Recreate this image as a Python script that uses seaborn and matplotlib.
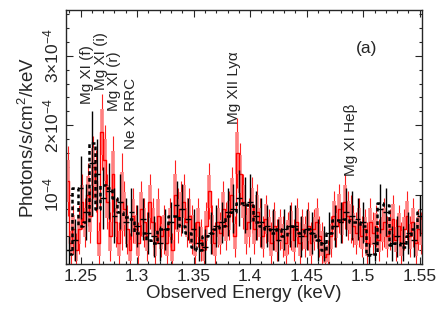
import numpy as np
import pandas as pd
import matplotlib
matplotlib.use("Agg")
import matplotlib.pyplot as plt
import seaborn as sns
from matplotlib.ticker import MultipleLocator

# ----------------------------
# Spectrum data (units of 1e-4 photons/s/cm^2/keV)
# ----------------------------
# black spectrum, 0.005 keV bins
black_e = [1.240, 1.245, 1.250, 1.255, 1.260, 1.265, 1.270, 1.275, 1.280, 1.285,
           1.290, 1.295, 1.300, 1.305, 1.310, 1.315, 1.320, 1.325, 1.330, 1.335,
           1.340, 1.345, 1.350, 1.355, 1.360, 1.365, 1.370, 1.375, 1.380, 1.385,
           1.390, 1.395, 1.400, 1.405, 1.410, 1.415, 1.420, 1.425, 1.430, 1.435,
           1.440, 1.445, 1.450, 1.455, 1.460, 1.465, 1.470, 1.475, 1.480, 1.485,
           1.490, 1.495, 1.500, 1.505, 1.510, 1.515, 1.520, 1.525, 1.530, 1.535,
           1.540, 1.545, 1.550]
black_y = [0.20, 0.35, 1.10, 0.75, 1.45, 1.30, 0.95, 1.05, 0.70, 0.90,
           0.60, 0.75, 0.55, 0.65, 0.45, 0.40, 0.30, 0.50, 0.60, 0.85,
           0.80, 0.65, 0.50, 0.30, 0.25, 0.45, 0.55, 0.60, 0.75, 0.80,
           0.95, 0.85, 0.90, 0.70, 0.60, 0.55, 0.50, 0.35, 0.50, 0.55,
           0.55, 0.40, 0.50, 0.45, 0.35, 0.30, 0.45, 0.55, 0.60, 0.75,
           0.70, 0.65, 0.60, 0.15, 0.30, 0.80, 0.75, 0.30, 0.40, 0.30,
           0.45, 0.35, 0.70]
black_err = [0.20, 0.30, 0.45, 0.40, 0.75, 0.50, 0.45, 0.40, 0.40, 0.40,
             0.35, 0.35, 0.30, 0.30, 0.30, 0.30, 0.25, 0.30, 0.30, 0.35,
             0.35, 0.30, 0.30, 0.25, 0.25, 0.30, 0.30, 0.30, 0.35, 0.35,
             0.40, 0.40, 0.40, 0.35, 0.35, 0.30, 0.30, 0.30, 0.30, 0.30,
             0.30, 0.30, 0.30, 0.30, 0.30, 0.25, 0.30, 0.30, 0.30, 0.35,
             0.35, 0.30, 0.30, 0.15, 0.25, 0.35, 0.35, 0.25, 0.30, 0.25,
             0.30, 0.25, 0.30]
black_model = [0.15, 1.10, 0.55, 0.60, 1.74, 0.80, 1.14, 1.10, 0.95, 0.75,
               0.68, 0.65, 0.45, 0.45, 0.35, 0.30, 0.50, 0.50, 0.70, 0.70,
               0.55, 0.45, 0.25, 0.20, 0.40, 0.45, 0.50, 0.55, 0.70, 0.75,
               0.88, 0.88, 0.85, 0.60, 0.55, 0.50, 0.45, 0.50, 0.40, 0.55,
               0.50, 0.45, 0.50, 0.45, 0.35, 0.20, 0.45, 0.63, 0.63, 0.65,
               0.60, 0.60, 0.55, 0.13, 0.15, 0.88, 0.85, 0.27, 0.30, 0.25,
               0.40, 0.50, 0.75]

# red spectrum, 0.0025 keV bins starting at 1.23875 keV
red_e = [round(1.23875 + 0.0025 * i, 5) for i in range(126)]
red_y = [1.20, 0.30, 0.50, 0.20, 0.50, 0.90, 0.60, 1.00, 0.70, 1.40,
         1.20, 0.30, 1.90, 1.50, 0.90, 0.40, 1.30, 0.60, 0.30, 0.90,
         0.80, 0.50, 0.20, 0.70, 0.50, 0.30, 0.80, 0.60, 0.40, 0.90,
         0.60, 0.30, 0.70, 0.40, 0.50, 0.30, 0.60, 0.20, 1.00, 0.70,
         0.80, 0.90, 0.60, 0.70, 0.50, 0.30, 0.60, 0.35, 0.20, 0.55,
         1.05, 0.50, 0.30, 0.60, 0.45, 0.80, 0.55, 0.70, 1.00, 0.40,
         1.60, 1.30, 0.90, 0.50, 0.60, 0.85, 0.50, 0.75, 0.60, 0.40,
         0.65, 0.50, 0.30, 0.55, 0.35, 0.50, 0.40, 0.30, 0.45, 0.55,
         0.35, 0.60, 0.30, 0.50, 0.40, 0.55, 0.30, 0.50, 0.60, 0.40,
         0.30, 0.10, 0.15, 0.40, 0.70, 0.55, 0.80, 0.60, 0.90, 0.70,
         0.65, 0.55, 0.45, 0.60, 0.40, 0.50, 0.30, 0.60, 0.45, 0.55,
         0.35, 0.50, 0.60, 0.40, 0.50, 0.65, 0.35, 0.55, 0.30, 0.50,
         0.70, 0.40, 0.60, 0.30, 0.50, 0.45]
red_err = [0.50, 0.30, 0.35, 0.25, 0.35, 0.40, 0.35, 0.45, 0.40, 0.45,
           0.45, 0.30, 0.55, 0.50, 0.40, 0.35, 0.55, 0.35, 0.30, 0.70,
           0.40, 0.35, 0.25, 0.40, 0.35, 0.30, 0.40, 0.35, 0.35, 0.40,
           0.35, 0.30, 0.40, 0.30, 0.35, 0.30, 0.35, 0.25, 0.50, 0.40,
           0.40, 0.40, 0.35, 0.40, 0.35, 0.30, 0.35, 0.30, 0.25, 0.35,
           0.40, 0.35, 0.30, 0.35, 0.30, 0.40, 0.35, 0.35, 0.40, 0.30,
           0.50, 0.45, 0.40, 0.35, 0.35, 0.40, 0.35, 0.40, 0.35, 0.30,
           0.35, 0.30, 0.30, 0.35, 0.30, 0.30, 0.30, 0.30, 0.30, 0.35,
           0.30, 0.35, 0.30, 0.30, 0.30, 0.35, 0.30, 0.30, 0.35, 0.30,
           0.30, 0.15, 0.20, 0.30, 0.35, 0.30, 0.35, 0.30, 0.40, 0.35,
           0.35, 0.30, 0.30, 0.35, 0.30, 0.30, 0.30, 0.35, 0.30, 0.30,
           0.30, 0.30, 0.35, 0.30, 0.30, 0.35, 0.30, 0.30, 0.30, 0.30,
           0.35, 0.30, 0.35, 0.30, 0.30, 0.30]

# line identifications: label, energy, bottom of text (1e-4 units)
line_labels = ["Mg XI (f)", "Mg XI (i)", "Mg XI (r)", "Ne X RRC",
               "Mg XII Ly\u03b1", "Mg XI He\u03b2"]
line_energy = [1.2560, 1.2685, 1.2800, 1.2945, 1.3860, 1.4890]
line_ybase = [2.30, 2.50, 2.20, 1.66, 2.02, 1.27]

scale = 1e-4
black = pd.DataFrame({"E": black_e, "y": np.array(black_y) * scale,
                      "err": np.array(black_err) * scale,
                      "model": np.array(black_model) * scale})
red = pd.DataFrame({"E": red_e, "y": np.array(red_y) * scale,
                    "err": np.array(red_err) * scale})

# ----------------------------
# Plot
# ----------------------------
sns.set_style("ticks")
plt.rcParams["font.family"] = ["Liberation Sans", "DejaVu Sans"]
plt.rcParams["mathtext.default"] = "regular"

fig = plt.figure(figsize=(4.36, 3.19), dpi=100)
ax = fig.add_axes([0.151, 0.172, 0.817, 0.797])

# red: light error bars + step histogram
ax.vlines(red["E"], red["y"] - red["err"], red["y"] + red["err"],
          color="#ff2020", lw=0.8)
ax.vlines(red["E"], red["y"] - 0.6 * red["err"], red["y"] + 0.6 * red["err"],
          color="#ff8080", lw=2.6)
sns.lineplot(data=red, x="E", y="y", ax=ax, color="red", lw=1.0,
             drawstyle="steps-mid", estimator=None)

# black: crosses + dotted model
ax.errorbar(black["E"], black["y"], yerr=black["err"], xerr=0.0025,
            fmt="none", ecolor="black", elinewidth=1.0)
sns.lineplot(data=black, x="E", y="model", ax=ax, color="black", lw=1.8,
             drawstyle="steps-mid", estimator=None, linestyle=(0, (1.5, 1.2)))

for lab, e, yb in zip(line_labels, line_energy, line_ybase):
    ax.text(e, yb * scale, lab, rotation=90, ha="center", va="bottom",
            fontsize=11)
ax.text(1.503, 3.1 * scale, "(a)", ha="center", va="center", fontsize=12.5)

ax.set_xlim(1.237, 1.552)
ax.set_ylim(0, 3.66 * scale)
ax.xaxis.set_major_locator(MultipleLocator(0.05))
ax.xaxis.set_minor_locator(MultipleLocator(0.01))
ax.set_xticks([1.25, 1.3, 1.35, 1.4, 1.45, 1.5, 1.55])
ax.set_xticklabels(["1.25", "1.3", "1.35", "1.4", "1.45", "1.5", "1.55"])
ax.set_yticks([1e-4, 2e-4, 3e-4])
ax.set_yticklabels(["$10^{-4}$", "2\u00d710$^{-4}$", "3\u00d710$^{-4}$"],
                   rotation=90, va="center")
ax.yaxis.set_minor_locator(MultipleLocator(0.2e-4))
ax.tick_params(which="both", direction="in", top=True, right=True,
               labelsize=12.5, width=0.8)
ax.tick_params(which="major", length=5)
ax.tick_params(which="minor", length=2.5)
for s in ax.spines.values():
    s.set_linewidth(1.0)

ax.set_xlabel("Observed Energy (keV)", fontsize=13.5, labelpad=1)
ax.set_ylabel("Photons/s/cm$^2$/keV", fontsize=13.5, labelpad=2)

fig.savefig("out.png", dpi=100)
